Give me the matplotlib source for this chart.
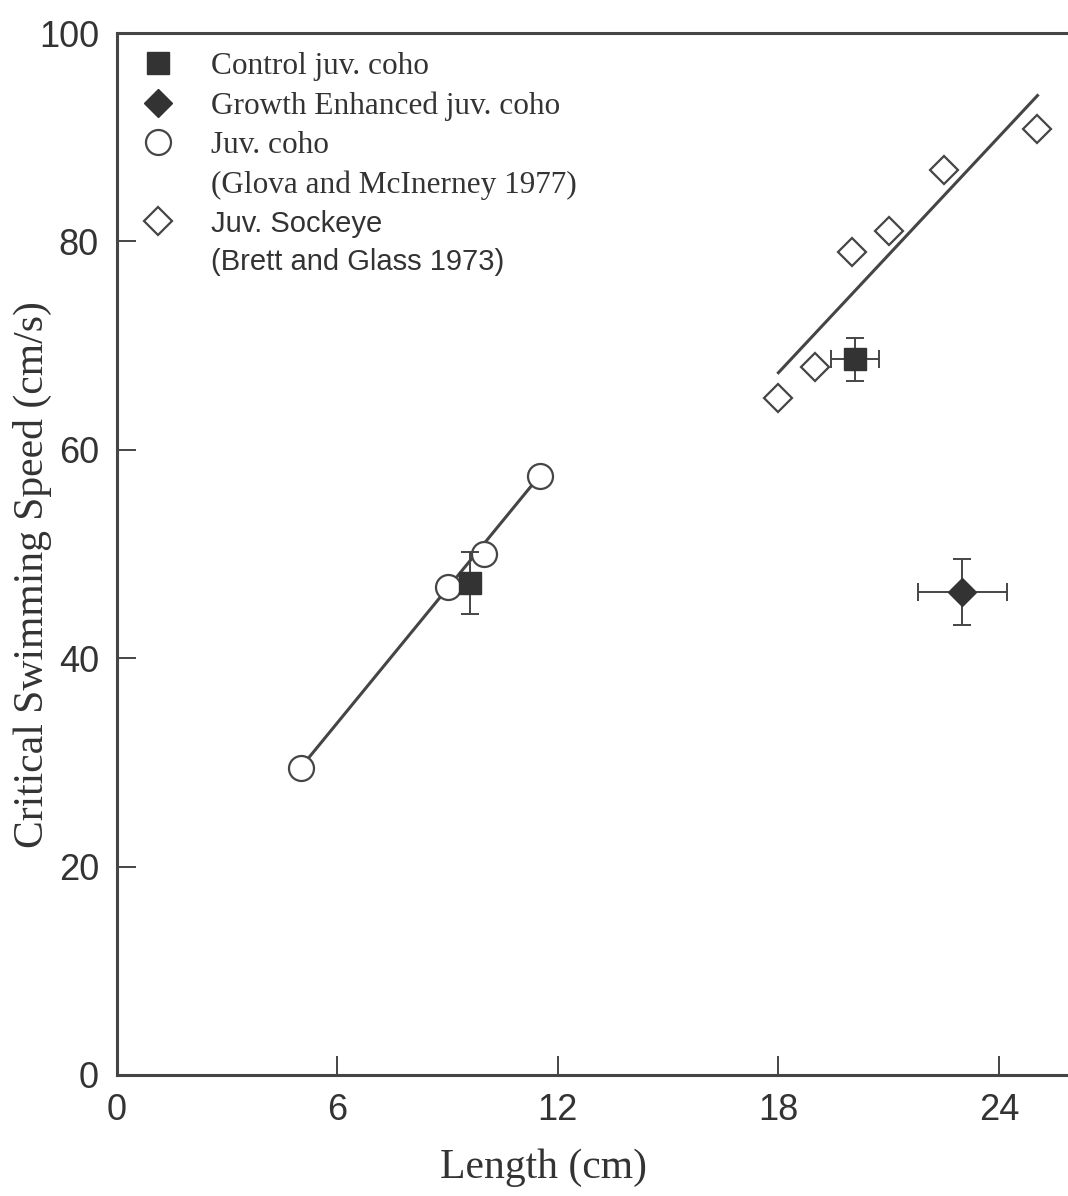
import numpy as np
import matplotlib
matplotlib.use('Agg')
import matplotlib.pyplot as plt
from matplotlib.lines import Line2D

# Data
coho_len   = [5.0, 9.0, 10.0, 11.5]
coho_speed = [29.5, 46.8, 50.0, 57.5]
coho_fit_len   = [5.0, 11.5]
coho_fit_speed = [29.5, 57.5]

sock_len   = [18.0, 19.0, 20.0, 21.0, 22.5, 25.05]
sock_speed = [65.0, 67.9, 79.0, 81.0, 86.9, 90.8]
sock_fit_len   = [18.0, 25.05]
sock_fit_speed = [67.4, 94.0]

ctrl_len       = [9.6, 20.08]
ctrl_speed     = [47.2, 68.7]
ctrl_len_err   = [0.0, 0.65]
ctrl_speed_err = [3.0, 2.05]

grow_len       = [23.0]
grow_speed     = [46.35]
grow_len_err   = [1.21]
grow_speed_err = [3.15]

xticks = [0, 6, 12, 18, 24]
yticks = [0, 20, 40, 60, 80, 100]

legend_labels = ['Control juv. coho',
                 'Growth Enhanced juv. coho',
                 'Juv. coho',
                 '(Glova and McInerney 1977)',
                 'Juv. Sockeye',
                 '(Brett and Glass 1973)']

serif = 'Liberation Serif'
sans  = 'Liberation Sans'
dark  = '#333333'
edge  = '#454545'

fig = plt.figure(figsize=(10.68, 11.96), dpi=100)
ax = fig.add_axes([0.1095, 0.1012, 0.8905, 0.8712])

# Regression lines
ax.plot(coho_fit_len, coho_fit_speed, color=edge, lw=2.2, zorder=1)
ax.plot(sock_fit_len, sock_fit_speed, color=edge, lw=2.2, zorder=1)

# Open symbols
ax.plot(coho_len, coho_speed, 'o', ms=18, mfc='white', mec=edge, mew=1.6, zorder=3)
ax.plot(sock_len, sock_speed, 'D', ms=14.5, mfc='white', mec=edge, mew=1.6, zorder=3)

# Filled symbols with error bars
ax.errorbar(ctrl_len, ctrl_speed, xerr=ctrl_len_err, yerr=ctrl_speed_err,
            fmt='s', ms=15.5, mfc=dark, mec=dark, ecolor=edge, elinewidth=1.4,
            capsize=6.8, capthick=1.4, zorder=4)
ax.errorbar(grow_len, grow_speed, xerr=grow_len_err, yerr=grow_speed_err,
            fmt='D', ms=14.5, mfc=dark, mec=dark, ecolor=edge, elinewidth=1.4,
            capsize=6.8, capthick=1.4, zorder=4)

ax.set_xlim(0, 25.88)
ax.set_ylim(0, 100)
ax.set_xticks(xticks)
ax.set_yticks(yticks)
ax.tick_params(direction='in', length=14, width=1.4, color=edge,
               labelsize=26, labelcolor='#333333', pad=13)
for lab in ax.get_xticklabels() + ax.get_yticklabels():
    lab.set_family(sans)

ax.spines['right'].set_visible(False)
for s in ['left', 'bottom', 'top']:
    ax.spines[s].set_linewidth(2.2)
    ax.spines[s].set_color(edge)

ax.set_xlabel('Length (cm)', family=serif, fontsize=30, color='#333333')
ax.set_ylabel('Critical Swimming Speed (cm/s)', family=serif, fontsize=30,
              color='#333333')
ax.xaxis.set_label_coords(0.448, -0.071)
ax.yaxis.set_label_coords(-0.068, 0.48)

# Legend (citation lines are entries without a symbol)
blank = Line2D([], [], ls='none')
handles = [
    Line2D([], [], ls='none', marker='s', ms=15.5, mfc=dark, mec=dark),
    Line2D([], [], ls='none', marker='D', ms=14.5, mfc=dark, mec=dark),
    Line2D([], [], ls='none', marker='o', ms=18, mfc='white', mec=edge, mew=1.6),
    blank,
    Line2D([], [], ls='none', marker='D', ms=14.5, mfc='white', mec=edge, mew=1.6),
    blank,
]
leg = ax.legend(handles, legend_labels, loc='upper left', bbox_to_anchor=(0.0, 0.991),
                frameon=False, prop={'family': serif, 'size': 22.5},
                handlelength=2.0, handletextpad=0.7, borderpad=0.3,
                labelspacing=0.33, borderaxespad=0)
texts = leg.get_texts()
for t in texts:
    t.set_color('#333333')
for t in texts[4:]:
    t.set_family(sans)
    t.set_fontsize(21)

fig.savefig('out.png', dpi=100)
